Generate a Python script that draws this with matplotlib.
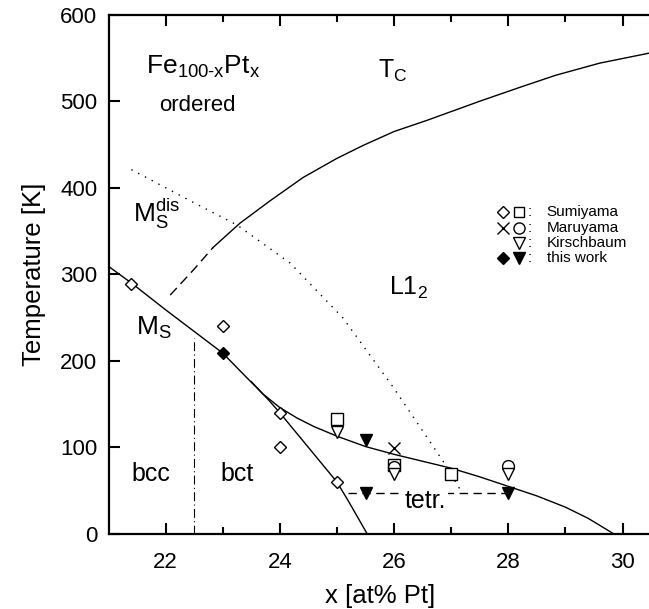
import matplotlib
matplotlib.use("Agg")
import matplotlib.pyplot as plt

plt.rcParams['font.family'] = ['Liberation Sans', 'DejaVu Sans']
plt.rcParams['mathtext.fontset'] = 'custom'
plt.rcParams['mathtext.rm'] = 'Liberation Sans'
plt.rcParams['mathtext.it'] = 'Liberation Sans'
plt.rcParams['mathtext.sf'] = 'Liberation Sans'

# ------------------------ curves
tc_dash_x = [22.08, 22.5, 22.83]
tc_dash_y = [276, 306, 331]
tc_x = [22.83, 23.3, 23.83, 24.41, 25.0, 25.46, 26.0, 26.58, 27.5, 28.2, 28.83, 29.6, 30.5]
tc_y = [331, 359, 385, 412, 434, 449, 465, 478, 500, 516, 530, 544, 556]

ms_x = [20.9, 21.4, 22.0, 22.5, 23.0, 23.4, 23.7, 24.0, 24.3, 24.6, 25.0, 25.5, 26.0,
        26.5, 27.0, 27.5, 28.0, 28.5, 29.0, 29.4, 29.85]
ms_y = [314, 290, 259, 234, 209, 182, 162, 146, 134, 124, 113, 101, 92,
        84, 76, 66, 55, 44, 31, 18, 0]

bct_x = [23.5, 23.8, 24.0, 24.5, 25.0, 25.2, 25.4, 25.53]
bct_y = [176, 155, 140, 100, 60, 38, 15, 0]

msdis_x = [21.4, 22.43, 23.25, 24.18, 25.1, 25.98, 26.93, 27.15]
msdis_y = [421, 385, 357, 313, 250, 170, 77, 52]

tetr_x = [25.2, 28.0]
tetr_y = [47, 47]

bcc_x = [22.5, 22.5]
bcc_y = [0, 226]

# ------------------------ data points
sum_dia_x = [21.4, 23.0, 24.0, 24.0, 25.0]
sum_dia_y = [289, 240, 140, 100, 60]
sum_sq_x = [25.0, 26.0, 27.0]
sum_sq_y = [133, 80, 69]
mar_x_x = [26.0]
mar_x_y = [99]
mar_o_x = [26.0, 28.0]
mar_o_y = [77, 79]
kir_x = [25.0, 26.0, 28.0]
kir_y = [118, 69, 69]
tw_dia_x = [23.0]
tw_dia_y = [209]
tw_tri_x = [25.5, 25.5, 28.0]
tw_tri_y = [108, 47, 47]

legend_names = ['Sumiyama', 'Maruyama', 'Kirschbaum', 'this work']

fig = plt.figure(figsize=(6.49, 6.09), dpi=100)
ax = fig.add_axes([0.1672, 0.1232, 0.836, 0.8527])

lw = 1.0
ax.plot(tc_x, tc_y, color='black', lw=lw)
ax.plot(tc_dash_x, tc_dash_y, color='black', lw=lw, ls=(0, (7, 4)))
ax.plot(ms_x, ms_y, color='black', lw=lw)
ax.plot(bct_x, bct_y, color='black', lw=lw)
ax.plot(msdis_x, msdis_y, color='black', lw=lw, ls=(0, (1, 4.5)))
ax.plot(tetr_x, tetr_y, color='black', lw=lw, ls=(0, (6, 4)))
ax.plot(bcc_x, bcc_y, color='black', lw=0.8, ls=(0, (8, 3, 1, 3)))

mk = dict(ls='none', color='black', mew=1.0, zorder=5)
ax.plot(sum_dia_x, sum_dia_y, marker='D', ms=6.5, mfc='white', **mk)
ax.plot(sum_sq_x, sum_sq_y, marker='s', ms=8, mfc='white', **mk)
ax.plot(mar_x_x, mar_x_y, marker='x', ms=8.5, **mk)
ax.plot(mar_o_x, mar_o_y, marker='o', ms=8.5, mfc='white', **mk)
ax.plot(kir_x, kir_y, marker='v', ms=9, mfc='white', **mk)
ax.plot(tw_dia_x, tw_dia_y, marker='D', ms=6.5, mfc='black', **mk)
ax.plot(tw_tri_x, tw_tri_y, marker='v', ms=9, mfc='black', **mk)

# ------------------------ legend (hand made)
rows = [372, 353, 336, 319]
lm = dict(ls='none', color='black', mew=1.0, clip_on=False)
ax.plot([27.91], [rows[0]], marker='D', ms=6, mfc='white', **lm)
ax.plot([28.19], [rows[0]], marker='s', ms=7.5, mfc='white', **lm)
ax.plot([27.91], [rows[1]], marker='x', ms=8, **lm)
ax.plot([28.19], [rows[1]], marker='o', ms=8, mfc='white', **lm)
ax.plot([28.19], [rows[2]], marker='v', ms=8.5, mfc='white', **lm)
ax.plot([27.91], [rows[3]], marker='D', ms=6, mfc='black', **lm)
ax.plot([28.19], [rows[3]], marker='v', ms=8.5, mfc='black', **lm)
for r, name in zip(rows, legend_names):
    ax.text(28.34, r, ':', fontsize=11, va='center', ha='left')
    ax.text(28.67, r, name, fontsize=11, va='center', ha='left')

# ------------------------ labels in the plot
ax.text(22.66, 540, r'$\mathregular{Fe_{100\text{-}x}Pt_x}$', fontsize=19, ha='center', va='center')
ax.text(22.55, 495, 'ordered', fontsize=16, ha='center', va='center')
ax.text(25.97, 535, r'$\mathregular{T_C}$', fontsize=18, ha='center', va='center')
ax.text(21.85, 370, r'$\mathregular{M_S^{dis}}$', fontsize=19, ha='center', va='center')
ax.text(26.25, 284, r'$\mathregular{L1_2}$', fontsize=18, ha='center', va='center')
ax.text(21.8, 238, r'$\mathregular{M_S}$', fontsize=19, ha='center', va='center')
ax.text(21.74, 69, 'bcc', fontsize=18, ha='center', va='center')
ax.text(23.25, 69, 'bct', fontsize=18, ha='center', va='center')
ax.text(26.55, 38, 'tetr.', fontsize=18, ha='center', va='center',
        bbox=dict(facecolor='white', edgecolor='none', pad=1))

# ------------------------ axes
ax.set_xlim(21, 30.5)
ax.set_ylim(0, 600)
ax.set_xticks([22, 24, 26, 28, 30])
ax.set_xticks([23, 25, 27, 29], minor=True)
ax.set_yticks([0, 100, 200, 300, 400, 500, 600])
ax.tick_params(axis='x', which='both', direction='in', top=True, bottom=True, labelsize=16, pad=13)
ax.tick_params(axis='x', which='major', length=8, width=1.5)
ax.tick_params(axis='x', which='minor', length=5, width=1.5)
ax.tick_params(axis='y', which='major', direction='in', length=8, width=1.5, labelsize=16, pad=8)
for s in ['left', 'bottom', 'top']:
    ax.spines[s].set_linewidth(1.6)
ax.spines['right'].set_visible(False)

ax.set_xlabel('x [at% Pt]', fontsize=18.5, labelpad=8)
ax.set_ylabel('Temperature [K]', fontsize=18.5, labelpad=10)

fig.savefig('out.png', dpi=100)
